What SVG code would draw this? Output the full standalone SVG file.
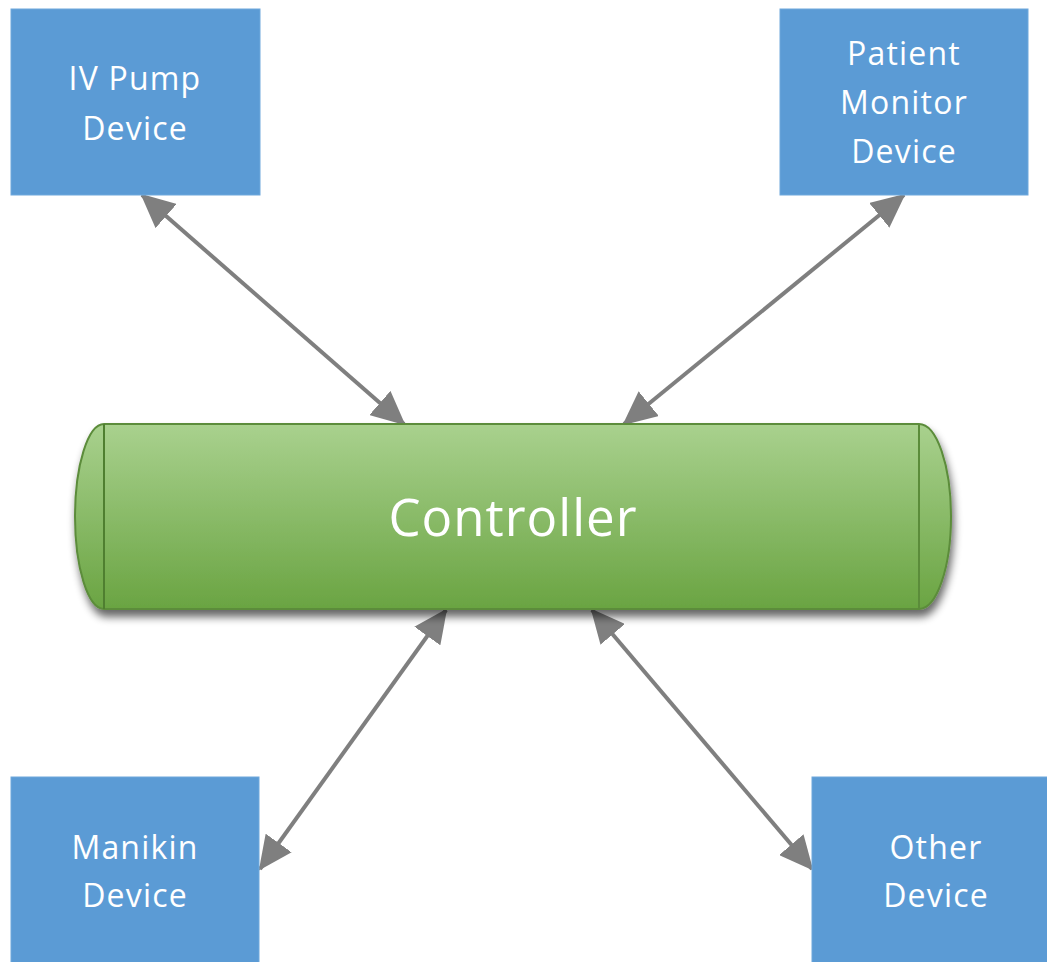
<svg xmlns="http://www.w3.org/2000/svg" width="1047" height="962" viewBox="0 0 1047 962">
  <defs>
    <linearGradient id="cylFill" x1="0" y1="0" x2="0" y2="1">
      <stop offset="0" stop-color="#a9d18e"/>
      <stop offset="1" stop-color="#6aa442"/>
    </linearGradient>
    <filter id="softShadow" x="-10%" y="-10%" width="120%" height="130%">
      <feGaussianBlur in="SourceAlpha" stdDeviation="4"/>
      <feOffset dx="2" dy="7" result="b"/>
      <feComponentTransfer><feFuncA type="linear" slope="0.6"/></feComponentTransfer>
      <feMerge><feMergeNode/><feMergeNode in="SourceGraphic"/></feMerge>
    </filter>
    <marker id="head" viewBox="0 0 34 32" refX="32" refY="16" markerWidth="34" markerHeight="32" markerUnits="userSpaceOnUse" orient="auto-start-reverse">
      <path d="M0,0 L34,16 L0,32 Z" fill="#7f7f7f"/>
    </marker>
    <style>
      .box { fill: #5b9bd5; stroke: #6fa8dc; stroke-width: 1; }
      .lbl { font-family: "Open Sans", "Liberation Sans", sans-serif; font-size: 32px; fill: #ffffff; text-anchor: middle; letter-spacing: 1.2px; }
      .conn { stroke: #7f7f7f; stroke-width: 4; fill: none; marker-start: url(#head); marker-end: url(#head); }
    </style>
  </defs>

  <rect width="1047" height="962" fill="#ffffff"/>

  <!-- connectors -->
  <g id="connectors">
    <line class="conn" x1="142" y1="195" x2="404" y2="424"/>
    <line class="conn" x1="904" y1="195" x2="624" y2="424"/>
    <line class="conn" x1="446" y1="610" x2="260" y2="869"/>
    <line class="conn" x1="592" y1="610" x2="812" y2="869"/>
  </g>

  <!-- controller bus -->
  <g id="controller">
    <path d="M104,424 H919 A32,92.5 0 0 1 919,609 H104 A29,92.5 0 0 1 104,424 Z" fill="url(#cylFill)" stroke="#5b8c3a" stroke-width="2" filter="url(#softShadow)"/>
    <line x1="104" y1="424" x2="104" y2="609" stroke="#4f7f30" stroke-width="2"/>
    <line x1="919" y1="424" x2="919" y2="609" stroke="#5b8c3a" stroke-width="2"/>
    <text x="513" y="536" font-family="'Open Sans', 'Liberation Sans', sans-serif" font-size="51" fill="#ffffff" text-anchor="middle" letter-spacing="1">Controller</text>
  </g>

  <g id="iv-pump">
    <rect class="box" x="11" y="9" width="249" height="186"/>
    <text class="lbl" x="135" y="90">IV Pump</text>
    <text class="lbl" x="135" y="140">Device</text>
  </g>

  <g id="patient-monitor">
    <rect class="box" x="780" y="9" width="248" height="186"/>
    <text class="lbl" x="904" y="65">Patient</text>
    <text class="lbl" x="904" y="114">Monitor</text>
    <text class="lbl" x="904" y="163">Device</text>
  </g>

  <g id="manikin">
    <rect class="box" x="11" y="777" width="248" height="200"/>
    <text class="lbl" x="135" y="859">Manikin</text>
    <text class="lbl" x="135" y="907">Device</text>
  </g>

  <g id="other">
    <rect class="box" x="812" y="777" width="250" height="200"/>
    <text class="lbl" x="936" y="859">Other</text>
    <text class="lbl" x="936" y="907">Device</text>
  </g>
</svg>
